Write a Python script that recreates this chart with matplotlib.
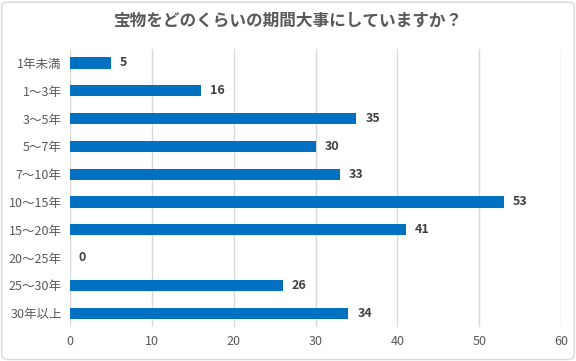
import matplotlib
matplotlib.use("Agg")
import matplotlib.pyplot as plt
from matplotlib.patches import FancyBboxPatch

plt.rcParams['font.family'] = ['Noto Sans CJK JP', 'DejaVu Sans']

categories = ["1年未満", "1～3年", "3～5年", "5～7年", "7～10年", "10～15年",
              "15～20年", "20～25年", "25～30年", "30年以上"]
values = [5, 16, 35, 30, 33, 53, 41, 0, 26, 34]
xticks = [0, 10, 20, 30, 40, 50, 60]
title = "宝物をどのくらいの期間大事にしていますか？"

fig = plt.figure(figsize=(5.76, 3.61), dpi=100)
ax = fig.add_axes([0.1215, 0.094, 0.8525, 0.77])

y = list(range(len(categories)))
ax.barh(y, values, height=0.4, color="#0070C0", zorder=3)
ax.set_ylim(len(categories) - 0.5, -0.5)
ax.set_xlim(0, 60)
ax.set_xticks(xticks)
ax.set_yticks(y)
ax.set_yticklabels(categories)
ax.grid(axis="x", color="#d9d9d9", linewidth=1, zorder=0)
for s in ax.spines.values():
    s.set_visible(False)
ax.tick_params(axis="both", length=0, labelsize=9, colors="#595959")
ax.tick_params(axis="y", pad=6)
ax.tick_params(axis="x", pad=6)

for yi, v in zip(y, values):
    ax.text(v + 1.1, yi, str(v), va="center", ha="left", fontsize=9,
            color="#404040", fontweight="bold", zorder=4)

fig.text(0.5, 0.943, title, ha="center", va="center", fontsize=12,
         color="#595959", fontweight="bold")

border = FancyBboxPatch((0.003, 0.004), 0.994, 0.99, boxstyle="round,pad=0,rounding_size=0.012",
                        transform=fig.transFigure, fill=False, edgecolor="#d9d9d9", linewidth=1)
fig.patches.append(border)

fig.savefig("out.png", dpi=100)
